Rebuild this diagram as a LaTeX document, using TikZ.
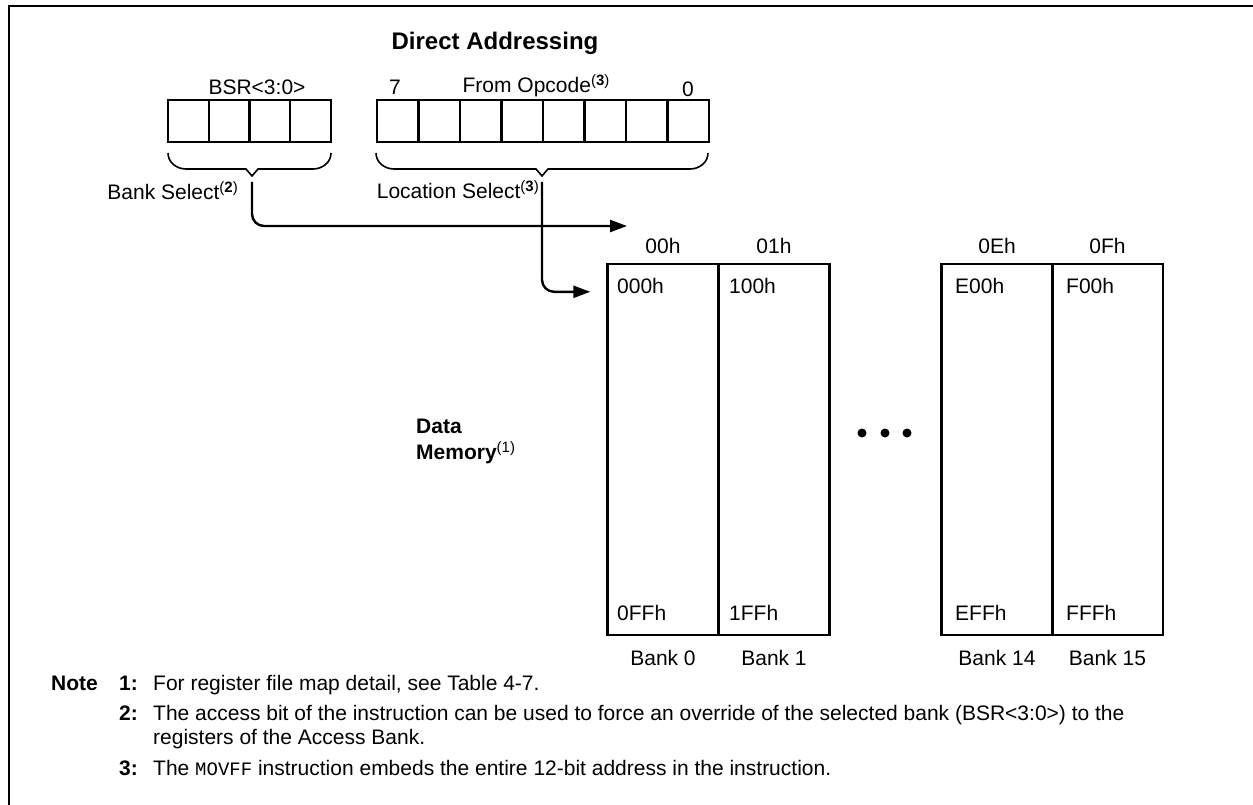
\documentclass[tikz,border=0pt]{standalone}
\usepackage{fontspec}
\setmainfont{Liberation Sans}
\setmonofont{Liberation Mono}
\usetikzlibrary{arrows.meta,calc}
\newcommand\fnref[1]{\raisebox{7pt}{\fontsize{15}{15}\selectfont(\textbf{#1})}}
\tikzset{
  x=1pt,y=-1pt,
  cell/.style={draw,line width=2.4pt,minimum width=41pt,minimum height=42pt,inner sep=0pt},
  bank/.style={draw,line width=2.4pt,minimum width=111pt,minimum height=371pt,inner sep=0pt},
  lbl/.style={font=\fontsize{21}{25}\selectfont,inner sep=0pt},
  hd/.style={font=\fontsize{24}{28}\selectfont\bfseries,inner sep=0pt},
  brc/.style={line width=1.6pt},
  sel/.style={line width=2.4pt,rounded corners=12pt,-{Triangle[length=17pt,width=12pt]}},
}
\begin{document}
\begin{tikzpicture}
\useasboundingbox (0,0) rectangle (1253,805);
% frame
\draw[line width=2.5pt] (9,812) -- (9,6) -- (1262,6);
\node[hd,anchor=base] (title) at (495,50) {Direct Addressing};
% BSR and opcode registers
\foreach \i in {0,...,3}
  \node[cell,minimum width=40.75pt] (bsr\i) at (188.4+40.75*\i,121) {};
\foreach \i in {0,...,7}
  \node[cell,minimum width=41.5pt] (opc\i) at (397.75+41.5*\i,121) {};
\node[lbl,anchor=base] (bsrname) at (257,95) {BSR<3:0>};
\node[lbl,anchor=base] (bit7) at (395,95) {7};
\node[lbl,anchor=base] (opname) at (536,93) {From Opcode\fnref{3}};
\node[lbl,anchor=base] (bit0) at (688,97) {0};
% braces
\draw[brc] (168,153) to[out=-90,in=180] (186,169) -- (246,169) -- (252,176)
  -- (258,169) -- (313,169) to[out=0,in=-90] (331,153);
\draw[brc] (376,153) to[out=-90,in=180] (394,169) -- (536,169) -- (542,176)
  -- (548,169) -- (690,169) to[out=0,in=-90] (708,153);
\coordinate (bsrtip) at (252,182);
\coordinate (loctip) at (542,182);
\node[lbl,anchor=base east] (banksel) at (238,200) {Bank Select\fnref{2}};
\node[lbl,anchor=base east] (locsel) at (539,199) {Location Select\fnref{3}};
% memory banks
\node[bank] (bank0) at (663,449.5) {};
\node[bank] (bank1) at (774,449.5) {};
\node[bank] (bank14) at (997,449.5) {};
\node[bank] (bank15) at (1107.5,449.5) {};
\coordinate (bankin) at (627,226);
\coordinate (locin) at ($(bank0.north west)+(-16,29)$);
\draw[sel] (bsrtip) |- (bankin);
\draw[sel] (loctip) |- (locin);
% bank numbers and addresses
\foreach \b/\x/\n/\lo/\hi/\t in {bank0/617/00h/000h/0FFh/Bank 0,
    bank1/729/01h/100h/1FFh/Bank 1,
    bank14/955/0Eh/E00h/EFFh/Bank 14,
    bank15/1066/0Fh/F00h/FFFh/Bank 15}{
  \node[lbl,anchor=base] at (\b.north |- 0,254) {\n};
  \node[lbl,anchor=base west] at (\x,293) {\lo};
  \node[lbl,anchor=base west] at (\x,620) {\hi};
  \node[lbl,anchor=base] at (\b.south |- 0,665) {\t};
}
\node[lbl,anchor=north west,align=left,font=\fontsize{21}{26}\selectfont\bfseries]
  (datamem) at (416,419) {Data\\Memory\raisebox{7pt}{\fontsize{15}{15}\mdseries\selectfont(1)}};
\foreach \x in {862,885,907}
  \fill (\x,433) circle (4.5);
% notes
\node[lbl,anchor=base east,font=\fontsize{21}{25}\selectfont\bfseries] (note) at (98,690) {Note};
\node[lbl,anchor=base east,font=\fontsize{21}{25}\selectfont\bfseries] (n1) at (138,690) {1:};
\node[lbl,anchor=base west] (t1) at (153,690) {For register file map detail, see Table 4-7.};
\node[lbl,anchor=base east,font=\fontsize{21}{25}\selectfont\bfseries] (n2) at (138,720) {2:};
\node[lbl,anchor=base west] (t2) at (153,720) {The access bit of the instruction can be used to force an override of the selected bank (BSR<3:0>) to the};
\node[lbl,anchor=base west] (t2b) at (153,744) {registers of the Access Bank.};
\node[lbl,anchor=base east,font=\fontsize{21}{25}\selectfont\bfseries] (n3) at (138,775) {3:};
\node[lbl,anchor=base west] (t3) at (153,775) {The {\fontsize{19}{25}\selectfont\ttfamily MOVFF} instruction embeds the entire 12-bit address in the instruction.};
\end{tikzpicture}
\end{document}
